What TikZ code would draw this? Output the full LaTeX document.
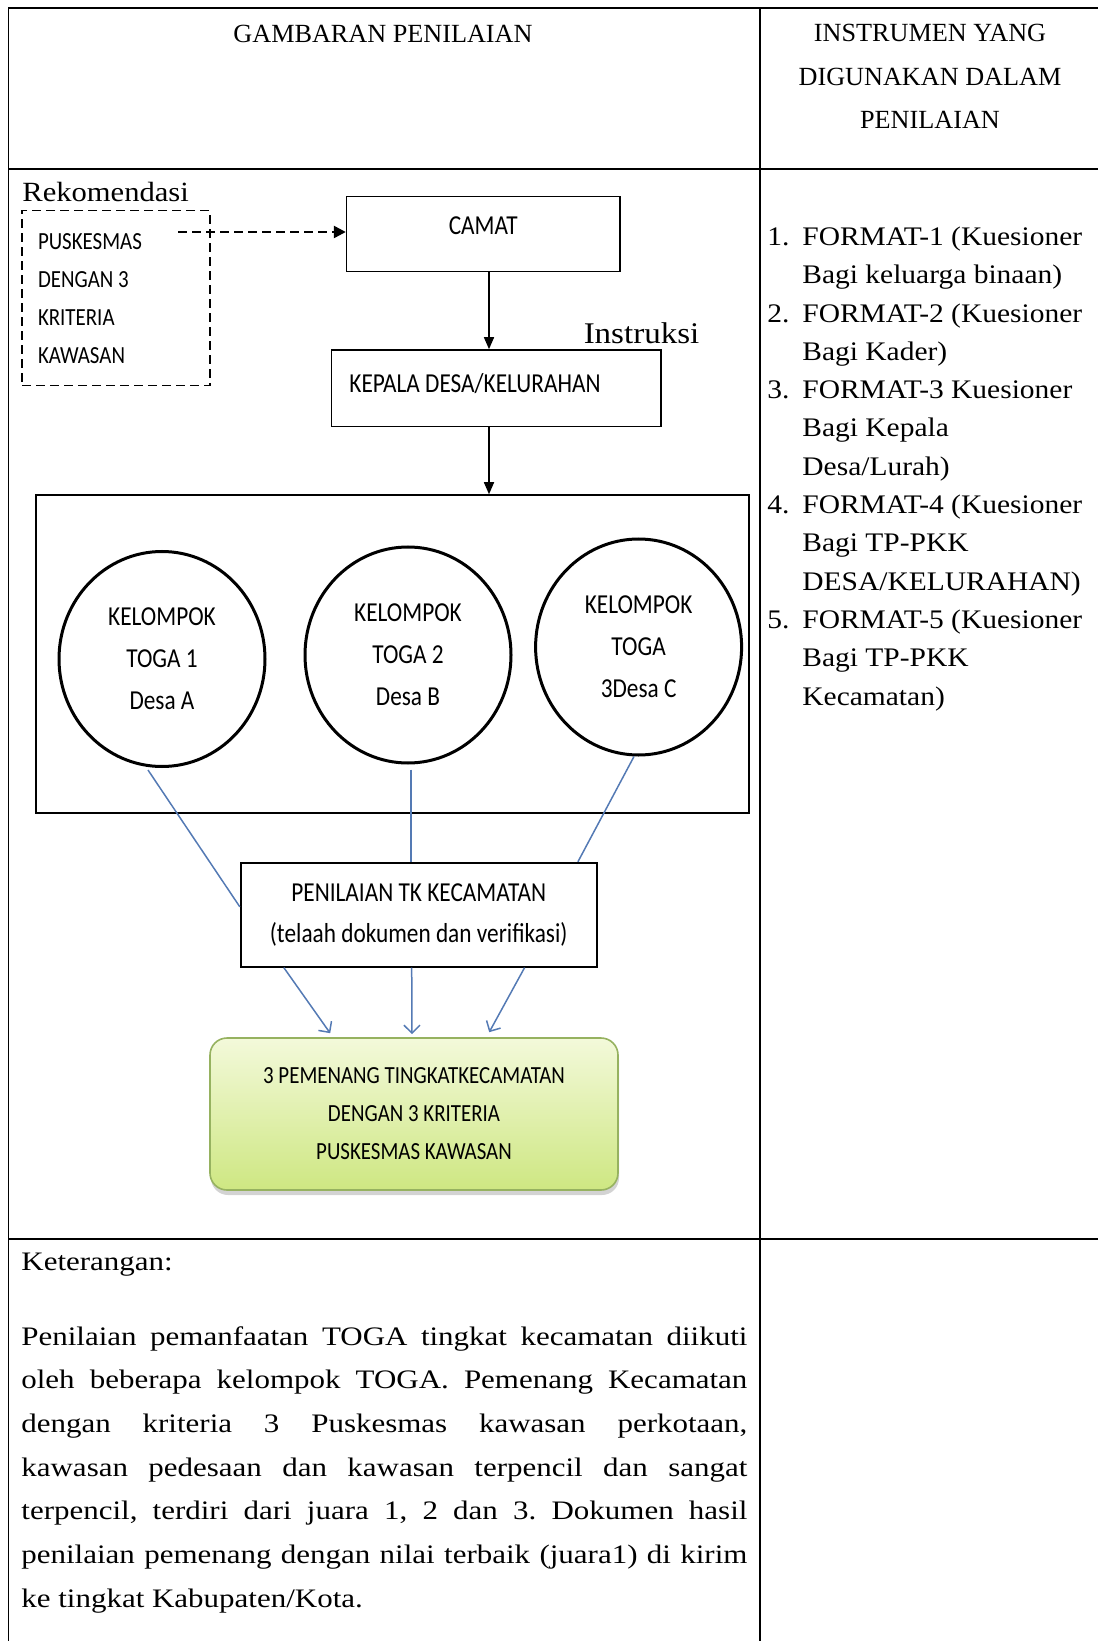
\documentclass[tikz,border=0pt]{standalone}
\usepackage{fontspec}
\setmainfont{Liberation Serif}
\newfontfamily\lsfont[FakeStretch=1.1]{Liberation Serif}
\newfontfamily\pfont[FakeStretch=1.16]{Liberation Serif}
\newfontfamily\cfont[FakeStretch=0.85]{Carlito}
\usetikzlibrary{arrows.meta,calc,shapes.geometric,shadows}
\definecolor{lnblue}{RGB}{84,122,180}
\definecolor{gbord}{RGB}{150,178,96}
\definecolor{gtop}{RGB}{243,249,218}
\definecolor{gbot}{RGB}{206,231,130}
\frenchspacing
\begin{document}
\begin{tikzpicture}[x=0.5pt,y=-0.5pt,
  tblh/.style={line width=1pt},
  tblv/.style={line width=0.8pt},
  boxn/.style={draw, line width=0.8pt, inner sep=0pt},
  circn/.style={ellipse, draw, line width=1.5pt, inner sep=0pt, minimum width=103pt, minimum height=107.5pt, align=center, font=\cfont\fontsize{13.7}{21}\selectfont},
  sanstxt/.style={inner sep=0pt, font=\cfont\fontsize{13.7}{16}\selectfont},
  blk/.style={-{Triangle[length=6pt,width=5pt]}, line width=0.75pt},
  dsharr/.style={-{Triangle[length=6pt,width=6pt]}, line width=1.2pt, dash pattern=on 4.5pt off 2.5pt},
  blu/.style={draw=lnblue, line width=0.75pt},
  bluarr/.style={blu, -{Straight Barb[length=4pt,width=8pt]}}
]
\useasboundingbox (0,0) rectangle (1098,1641);

% table
\draw[tblh] (8.4,8) -- (1098,8);
\draw[tblh] (8.4,169.3) -- (1098,169.3);
\draw[tblh] (8.4,1239.3) -- (1098,1239.3);
\draw[tblv] (8.4,8) -- (8.4,1641);
\draw[tblv] (760,8) -- (760,1641);

% headers
\node[inner sep=0pt, font=\fontsize{13.1}{16}\selectfont] (h1) at (383,34) {GAMBARAN PENILAIAN};
\node[inner sep=0pt, align=center, font=\fontsize{13.1}{21.75}\selectfont] (h2) at (930,76.5) {INSTRUMEN YANG\\DIGUNAKAN DALAM\\PENILAIAN};

% left part
\node[inner sep=0pt, anchor=west, font=\lsfont\fontsize{13.9}{16}\selectfont] (rek) at (22,192) {Rekomendasi};
\node[draw, line width=0.6pt, dash pattern=on 4.5pt off 2.5pt, minimum width=94pt, minimum height=87.6pt, inner sep=0pt] (pusk) at (116,298.3) {};
\node[inner sep=0pt, anchor=west, align=left, font=\cfont\fontsize{12.3}{18.9}\selectfont] (pusktxt) at (37.6,298.75) {PUSKESMAS\\DENGAN 3\\KRITERIA\\KAWASAN};

\node[boxn, minimum width=136.6pt, minimum height=37.6pt] (camat) at (483.2,234) {};
\node[sanstxt] (camattxt) at (483.2,226) {CAMAT};
\node[boxn, minimum width=164.75pt, minimum height=38.3pt] (kepala) at (496.3,388.3) {};
\node[sanstxt, anchor=west] (kepalatxt) at (349,384) {KEPALA DESA/KELURAHAN};
\node[inner sep=0pt, font=\lsfont\fontsize{15}{18}\selectfont] (instr) at (641.5,333) {Instruksi};

\coordinate (dstart) at (178,232);
\draw[dsharr] (dstart) -- (dstart -| camat.west);

\coordinate (ax) at (489,0);
\node[boxn, line width=0.75pt, minimum width=356.5pt, minimum height=159pt] (group) at (392.5,654) {};
\draw[blk] (camat.south -| ax) -- (kepala.north -| ax);
\draw[blk] (kepala.south -| ax) -- (group.north -| ax);

\node[circn] (c1) at (162,659) {KELOMPOK\\TOGA 1\\Desa A};
\node[circn, minimum height=108pt] (c2) at (408,655) {KELOMPOK\\TOGA 2\\Desa B};
\node[circn, minimum height=108pt] (c3) at (638.6,647) {KELOMPOK\\TOGA\\3Desa C};

\node[boxn, line width=0.9pt, minimum width=178pt, minimum height=52pt, align=center, font=\cfont\fontsize{13.7}{20.5}\selectfont] (pen) at (418.7,914.7) {PENILAIAN TK KECAMATAN\\(telaah dokumen dan verifikasi)};

\node[draw=gbord, line width=0.8pt, rounded corners=8.5pt, top color=gtop, bottom color=gbot,
  drop shadow={shadow xshift=0.5pt, shadow yshift=-2.5pt, opacity=0.35},
  minimum width=204pt, minimum height=76pt, inner sep=0pt, align=center,
  font=\cfont\fontsize{12.3}{19}\selectfont] (win) at (414,1114) {3 PEMENANG TINGKATKECAMATAN\\DENGAN 3 KRITERIA\\PUSKESMAS KAWASAN};

\draw[blu] ($(c1.south)+(-14,2)$) -- ($(pen.north west)+(0,45)$);
\draw[blu] ($(c2.south)+(3,5)$) -- ($(pen.north)+(-7.7,0)$);
\draw[blu] ($(c3.south)+(-4.6,0)$) -- ($(pen.north east)+(-19.7,0)$);

\draw[bluarr] ($(pen.south west)+(44,0)$) -- ($(win.north west)+(121,-4)$);
\draw[bluarr] ($(pen.south)+(-7,0)$) -- ($(win.north)+(-2,-3)$);
\draw[bluarr] ($(pen.south east)+(-73,0)$) -- ($(win.north west)+(280,-5)$);

% right list
\node[inner sep=0pt, anchor=base west, font=\lsfont\fontsize{13.4}{19.15}\selectfont] (list) at (767,245.5) {%
\begin{tabular}[t]{@{}p{17.5pt}@{}l@{}}
1. & FORMAT-1 (Kuesioner\\
   & Bagi keluarga binaan)\\
2. & FORMAT-2 (Kuesioner\\
   & Bagi Kader)\\
3. & FORMAT-3 Kuesioner\\
   & Bagi Kepala\\
   & Desa/Lurah)\\
4. & FORMAT-4 (Kuesioner\\
   & Bagi TP-PKK\\
   & DESA/KELURAHAN)\\
5. & FORMAT-5 (Kuesioner\\
   & Bagi TP-PKK\\
   & Kecamatan)
\end{tabular}};

% bottom
\node[inner sep=0pt, anchor=base west, font=\pfont\fontsize{13.35}{16}\selectfont] (ket) at (21,1270) {Keterangan:};
\node[inner sep=0pt, anchor=base west, font=\pfont\fontsize{13.35}{21.85}\selectfont] (para) at (21,1345) {%
\begin{minipage}[t]{363pt}\hyphenpenalty=10000\emergencystretch=20pt
Penilaian pemanfaatan TOGA tingkat kecamatan diikuti\linebreak
oleh beberapa kelompok TOGA. Pemenang Kecamatan\linebreak
dengan kriteria 3 Puskesmas kawasan perkotaan,\linebreak
kawasan pedesaan dan kawasan terpencil dan sangat\linebreak
terpencil, terdiri dari juara 1, 2 dan 3. Dokumen hasil\linebreak
penilaian pemenang dengan nilai terbaik (juara1) di kirim\linebreak
ke tingkat Kabupaten/Kota.
\end{minipage}};
\end{tikzpicture}
\end{document}
